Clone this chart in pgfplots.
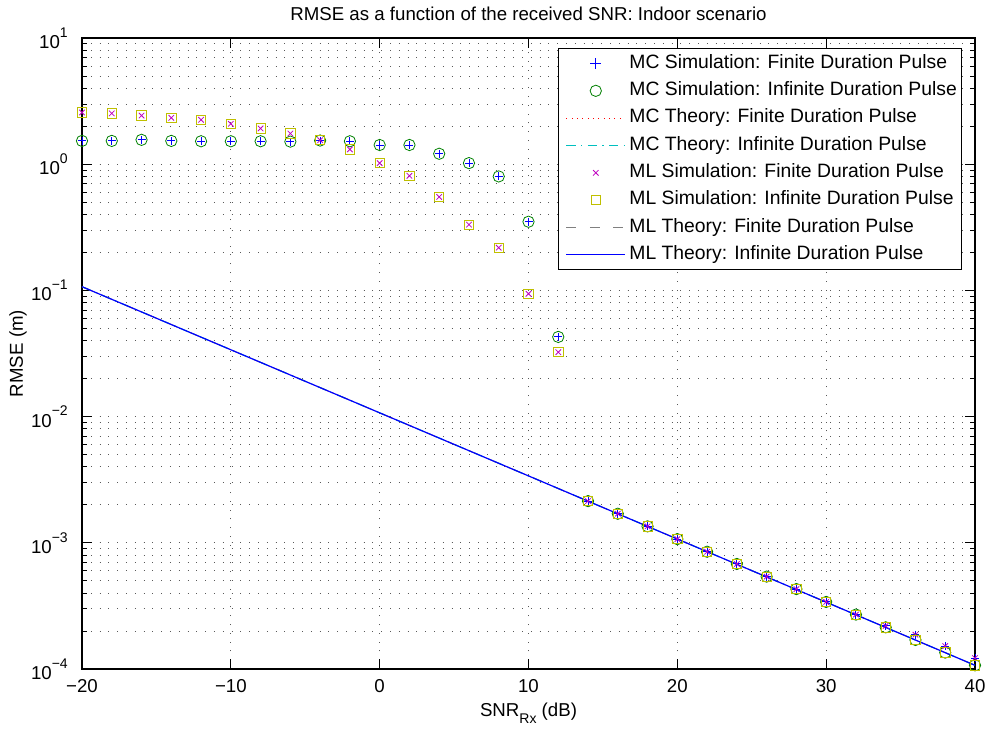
\documentclass[border=0pt]{standalone}
\usepackage{fontspec}
\setmainfont{Liberation Sans}
\usepackage{pgfplots}
\pgfplotsset{compat=1.18}
\usetikzlibrary{calc}
\definecolor{mgreen}{rgb}{0,0.5,0}
\definecolor{mcyan}{rgb}{0,0.75,0.75}
\definecolor{mmag}{rgb}{0.75,0,0.75}
\definecolor{myel}{rgb}{0.75,0.75,0}
\definecolor{mblue}{rgb}{0,0,1}
\newcommand{\mysup}[1]{\raisebox{0.6em}{\fontsize{10.5}{10.5}\selectfont #1}}
\newcommand{\mysub}[1]{\raisebox{-0.4em}{\fontsize{10.5}{10.5}\selectfont #1}}
\begin{document}
\begin{tikzpicture}
\begin{axis}[
  scale only axis,
  width=669.75pt, height=473.25pt,
  xmin=-20, xmax=40,
  ymode=log, ymin=1e-4, ymax=10,
  xtick={-20,-10,0,10,20,30,40},
  xticklabels={−20,−10,0,10,20,30,40},
  ytick={1e-4,1e-3,1e-2,1e-1,1,10},
  yticklabels={10\mysup{−4},10\mysup{−3},10\mysup{−2},10\mysup{−1},10\mysup{0},10\mysup{1}},
  font=\fontsize{14}{17}\selectfont,
  tick align=inside,
  major tick length=7.5pt,
  minor tick length=3.75pt,
  every tick/.style={black, line width=0.6pt},
  axis line style={line width=0.9pt},
  xmajorgrids, ymajorgrids, yminorgrids,
  major grid style={black!65, line width=0.55pt, dash pattern=on 0.7pt off 5.9pt},
  minor grid style={black!65, line width=0.55pt, dash pattern=on 0.7pt off 5.9pt},
  xticklabel style={anchor=base, inner sep=0pt, yshift=-17.5pt},
  yticklabel style={anchor=east, inner sep=0pt, xshift=-10.5pt},
  title={RMSE as a function of the received SNR: Indoor scenario},
  title style={at={(axis description cs:0.5,1)}, anchor=base, yshift=7pt, inner sep=0pt},
  xlabel={SNR\mysub{Rx} (dB)},
  xlabel style={at={(axis description cs:0.5,-0.0745)}, anchor=base, inner sep=0pt},
  ylabel={RMSE (m)},
  ylabel style={at={(axis description cs:-0.0717,0.5)}, anchor=center, inner sep=0pt},
  legend cell align=left,
  legend image code/.code={\path[draw=none] (0pt,0pt) -- (50pt,0pt); \draw[mark repeat=2,mark phase=2,#1] plot coordinates {(4.75pt,0pt) (26.75pt,0pt) (48.75pt,0pt)};},
  legend style={at={(axis description cs:1,1)}, anchor=north east, xshift=-9.75pt, yshift=-7.5pt,
    draw=black, line width=0.75pt, inner xsep=1.5pt, inner ysep=1pt, row sep=0pt,
    font=\fontsize{14.5}{17}\selectfont,
    nodes={inner xsep=2pt, inner ysep=3.75pt, text height=10pt, text depth=3pt}},
]
% MC simulation: finite
\addplot[only marks, mark=+, mark size=3pt, draw=mblue, color=mblue, mark options={draw=mblue, line width=0.7pt},
  legend image code/.code={\path[draw=none] (0pt,0pt) -- (50pt,0pt); \draw[draw=mblue, color=mblue, line width=0.7pt] (22.75pt,0pt) -- (30.75pt,0pt) (26.75pt,-4pt) -- (26.75pt,4pt);}] coordinates {
(-20,1.53) (-18,1.53) (-16,1.56) (-14,1.53) (-12,1.52) (-10,1.52) (-8,1.52) (-6,1.51) (-4,1.54) (-2,1.52)
(0,1.42) (2,1.42) (4,1.21) (6,1.02) (8,0.80) (10,0.35) (12,0.0428)
(14,2.14e-3) (16,1.70e-3) (18,1.35e-3) (20,1.07e-3) (22,8.5e-4) (24,6.8e-4) (26,5.4e-4) (28,4.3e-4)
(30,3.4e-4) (32,2.7e-4) (34,2.2e-4) (36,1.87e-4) (38,1.52e-4) (40,1.22e-4)};
\addlegendentry{MC Simulation: Finite Duration Pulse}
% MC simulation: infinite
\addplot[only marks, mark=o, mark size=4.25pt, color=mgreen, mark options={mgreen, line width=0.6pt}] coordinates {
(-20,1.53) (-18,1.53) (-16,1.56) (-14,1.53) (-12,1.52) (-10,1.52) (-8,1.52) (-6,1.51) (-4,1.54) (-2,1.52)
(0,1.42) (2,1.42) (4,1.21) (6,1.02) (8,0.80) (10,0.35) (12,0.0428)
(14,2.14e-3) (16,1.70e-3) (18,1.35e-3) (20,1.07e-3) (22,8.5e-4) (24,6.8e-4) (26,5.4e-4) (28,4.3e-4)
(30,3.4e-4) (32,2.7e-4) (34,2.14e-4) (36,1.70e-4) (38,1.35e-4) (40,1.07e-4)};
\addlegendentry{MC Simulation: Infinite Duration Pulse}
% MC theory: finite
\addplot[red, line width=0.6pt, dash pattern=on 0.75pt off 3.25pt] coordinates {(-20,0.107) (10,3.39e-3) (40,1.07e-4)};
\addlegendentry{MC Theory: Finite Duration Pulse}
% MC theory: infinite
\addplot[draw=mcyan, color=mcyan, line width=0.85pt, dash pattern=on 7pt off 4pt on 1pt off 4pt,
  legend image code/.code={\path[draw=none] (0pt,0pt) -- (50pt,0pt); \draw[draw=mcyan, line width=0.85pt, dash pattern=on 7pt off 4pt on 1pt off 4pt] (4.75pt,0pt) -- (48.75pt,0pt);}] coordinates {(-20,0.107) (10,3.39e-3) (40,1.07e-4)};
\addlegendentry{MC Theory: Infinite Duration Pulse}
% ML simulation: finite
\addplot[only marks, mark=x, mark size=2.9pt, color=mmag, mark options={mmag, line width=0.6pt}] coordinates {
(-20,2.57) (-18,2.53) (-16,2.43) (-14,2.33) (-12,2.25) (-10,2.09) (-8,1.92) (-6,1.75) (-4,1.55) (-2,1.31)
(0,1.02) (2,0.81) (4,0.55) (6,0.332) (8,0.218) (10,0.094) (12,0.0324)
(14,2.14e-3) (16,1.70e-3) (18,1.35e-3) (20,1.07e-3) (22,8.5e-4) (24,6.8e-4) (26,5.4e-4) (28,4.3e-4)
(30,3.4e-4) (32,2.7e-4) (34,2.2e-4) (36,1.87e-4) (38,1.52e-4) (40,1.22e-4)};
\addlegendentry{ML Simulation: Finite Duration Pulse}
% ML simulation: infinite
\addplot[only marks, mark=square, mark size=3.5pt, color=myel, mark options={myel, line width=0.6pt}] coordinates {
(-20,2.57) (-18,2.53) (-16,2.43) (-14,2.33) (-12,2.25) (-10,2.09) (-8,1.92) (-6,1.75) (-4,1.55) (-2,1.31)
(0,1.02) (2,0.81) (4,0.55) (6,0.332) (8,0.218) (10,0.094) (12,0.0324)
(14,2.14e-3) (16,1.70e-3) (18,1.35e-3) (20,1.07e-3) (22,8.5e-4) (24,6.8e-4) (26,5.4e-4) (28,4.3e-4)
(30,3.4e-4) (32,2.7e-4) (34,2.14e-4) (36,1.70e-4) (38,1.35e-4) (40,1.07e-4)};
\addlegendentry{ML Simulation: Infinite Duration Pulse}
% ML theory: finite
\addplot[black!50, line width=0.75pt, dash pattern=on 7.5pt off 10pt] coordinates {(-20,0.107) (10,3.39e-3) (40,1.07e-4)};
\addlegendentry{ML Theory: Finite Duration Pulse}
% ML theory: infinite
\addplot[blue, line width=0.9pt] coordinates {(-20,0.107) (10,3.39e-3) (40,1.07e-4)};
\addlegendentry{ML Theory: Infinite Duration Pulse}
\end{axis}
\pgfresetboundingbox
\useasboundingbox ($(current axis.south west)+(-61.5pt,-45pt)$) rectangle ($(current axis.north east)+(12.75pt,28.5pt)$);
\end{tikzpicture}
\end{document}
